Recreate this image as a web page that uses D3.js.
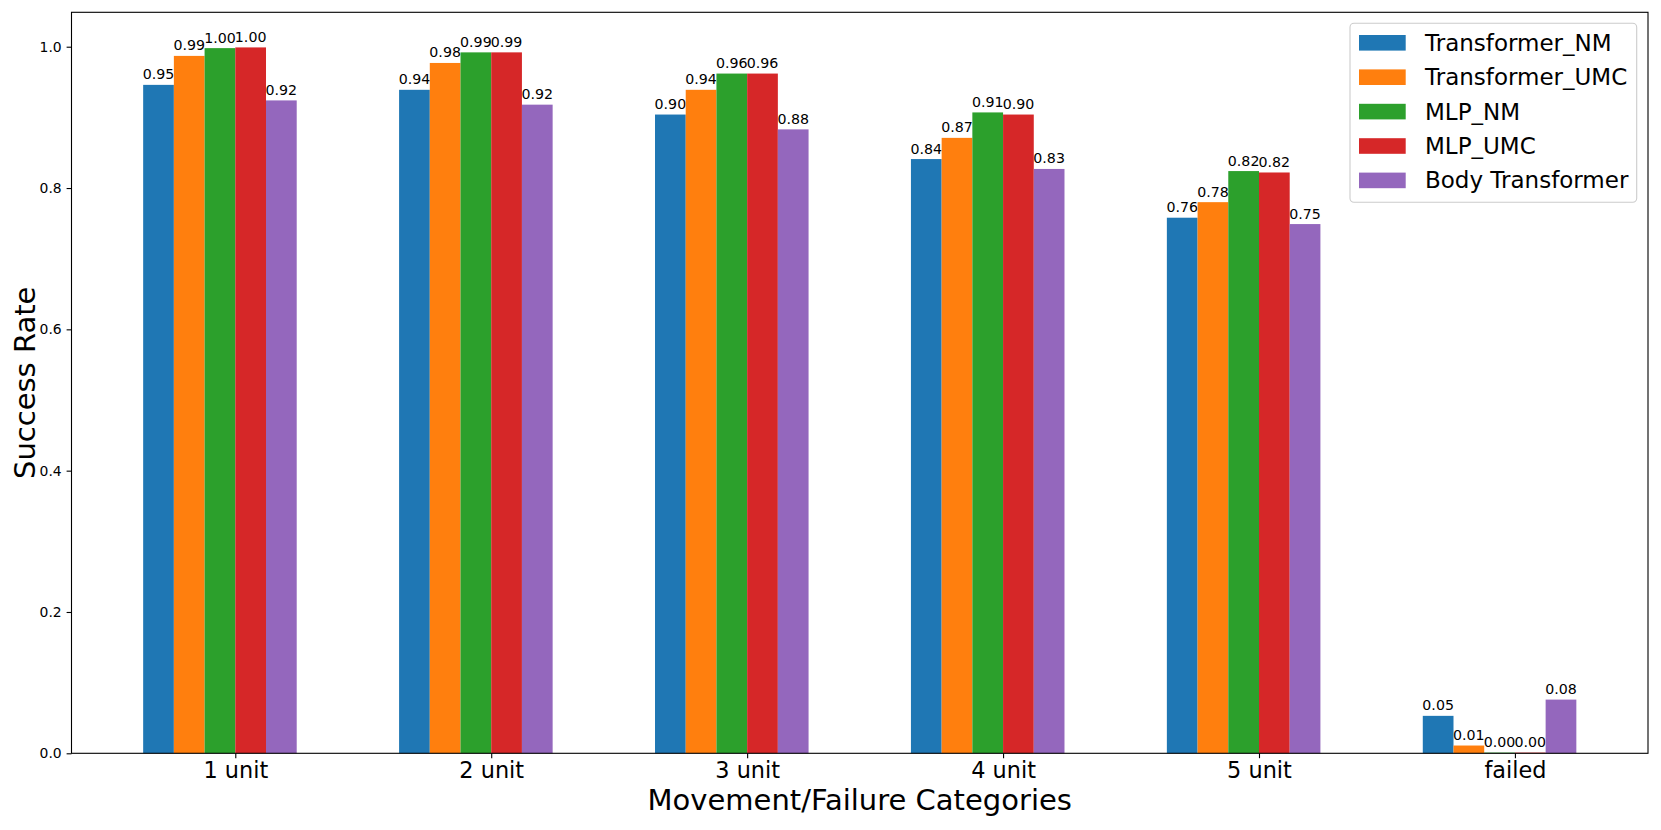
<!DOCTYPE html>
<html>
<head>
<meta charset="utf-8">
<script src="https://cdn.jsdelivr.net/npm/d3@7"></script>
<style>
  html, body { margin: 0; padding: 0; background: #fff; }
  svg { display: block; font-family: "DejaVu Sans", sans-serif; }
</style>
</head>
<body>
<svg id="chart" width="1661" height="830"></svg>
<script>
const categories = ["1 unit", "2 unit", "3 unit", "4 unit", "5 unit", "failed"];
const seriesNames = ["Transformer_NM", "Transformer_UMC", "MLP_NM", "MLP_UMC", "Body Transformer"];
const transformerNM   = [0.946, 0.939, 0.904, 0.841, 0.758, 0.053];
const transformerUMC  = [0.987, 0.977, 0.939, 0.871, 0.780, 0.011];
const mlpNM           = [0.998, 0.992, 0.962, 0.907, 0.824, 0.001];
const mlpUMC          = [0.999, 0.992, 0.962, 0.904, 0.822, 0.001];
const bodyTransformer = [0.924, 0.918, 0.883, 0.827, 0.749, 0.076];
const yTicks = [0.0, 0.2, 0.4, 0.6, 0.8, 1.0];
const colors = ["#1f77b4", "#ff7f0e", "#2ca02c", "#d62728", "#9467bd"];

const seriesValues = [transformerNM, transformerUMC, mlpNM, mlpUMC, bodyTransformer];
const barW = 0.12;

const mLeft = 71.5, mRight = 1648, mTop = 12.3, mBottom = 753.3;
const svg = d3.select("#chart");

const x = d3.scaleLinear().domain([-0.64, 5.52]).range([mLeft, mRight]);
const y = d3.scaleLinear().domain([0, 1.0487]).range([mBottom, mTop]);

// bars
seriesValues.forEach((vals, j) => {
  const g = svg.append("g");
  g.selectAll("rect").data(vals).join("rect")
    .attr("x", (d, i) => x(i + (j - 3) * barW))
    .attr("width", (d, i) => x(i + (j - 2) * barW) - x(i + (j - 3) * barW))
    .attr("y", d => y(d))
    .attr("height", d => y(0) - y(d))
    .attr("fill", colors[j]);
  g.selectAll("text").data(vals).join("text")
    .attr("x", (d, i) => x(i + (j - 2.5) * barW))
    .attr("y", d => y(d) - 5.5)
    .attr("text-anchor", "middle")
    .attr("font-size", "14.2px")
    .attr("fill", "#000")
    .text(d => d.toFixed(2));
});

// y axis
const yAxis = d3.axisLeft(y).tickValues(yTicks).tickFormat(d3.format(".1f")).tickSize(4.9).tickPadding(4.9);
const ya = svg.append("g").attr("transform", `translate(${mLeft},0)`).call(yAxis);
ya.select(".domain").remove();
ya.selectAll("text").attr("font-size", "13.9px").attr("font-family", "DejaVu Sans").attr("fill", "#000");
ya.selectAll("line").attr("stroke", "#000").attr("stroke-width", 1.1);

// x axis
const xAxis = d3.axisBottom(x).tickValues(categories.map((c, i) => i)).tickFormat(i => categories[i]).tickSize(4.9).tickPadding(4.9);
const xa = svg.append("g").attr("transform", `translate(0,${mBottom})`).call(xAxis);
xa.select(".domain").remove();
xa.selectAll("text").attr("font-size", "22.4px").attr("font-family", "DejaVu Sans").attr("fill", "#000")
  .attr("dy", null).attr("y", 25.2);
xa.selectAll("line").attr("stroke", "#000").attr("stroke-width", 1.1);

// frame
svg.append("rect").attr("x", mLeft).attr("y", mTop).attr("width", mRight - mLeft).attr("height", mBottom - mTop)
  .attr("fill", "none").attr("stroke", "#000").attr("stroke-width", 1.1);

// axis labels
svg.append("text").attr("x", (mLeft + mRight) / 2).attr("y", 810).attr("text-anchor", "middle")
  .attr("font-size", "29px").attr("fill", "#000").text("Movement/Failure Categories");
svg.append("text").attr("transform", `translate(35,${(mTop + mBottom) / 2}) rotate(-90)`)
  .attr("text-anchor", "middle").attr("font-size", "29px").attr("fill", "#000").text("Success Rate");

// legend
const lg = svg.append("g");
lg.append("rect").attr("x", 1350).attr("y", 23.3).attr("width", 286.7).attr("height", 179)
  .attr("rx", 4).attr("fill", "#fff").attr("fill-opacity", 0.8).attr("stroke", "#cccccc").attr("stroke-width", 1.1);
seriesNames.forEach((name, j) => {
  const cy = 42.8 + j * 34.4;
  lg.append("rect").attr("x", 1359).attr("y", cy - 7.8).attr("width", 46.7).attr("height", 15.6).attr("fill", colors[j]);
  lg.append("text").attr("x", 1425).attr("y", cy + 8).attr("font-size", "23px").attr("fill", "#000").text(name);
});
</script>
</body>
</html>
